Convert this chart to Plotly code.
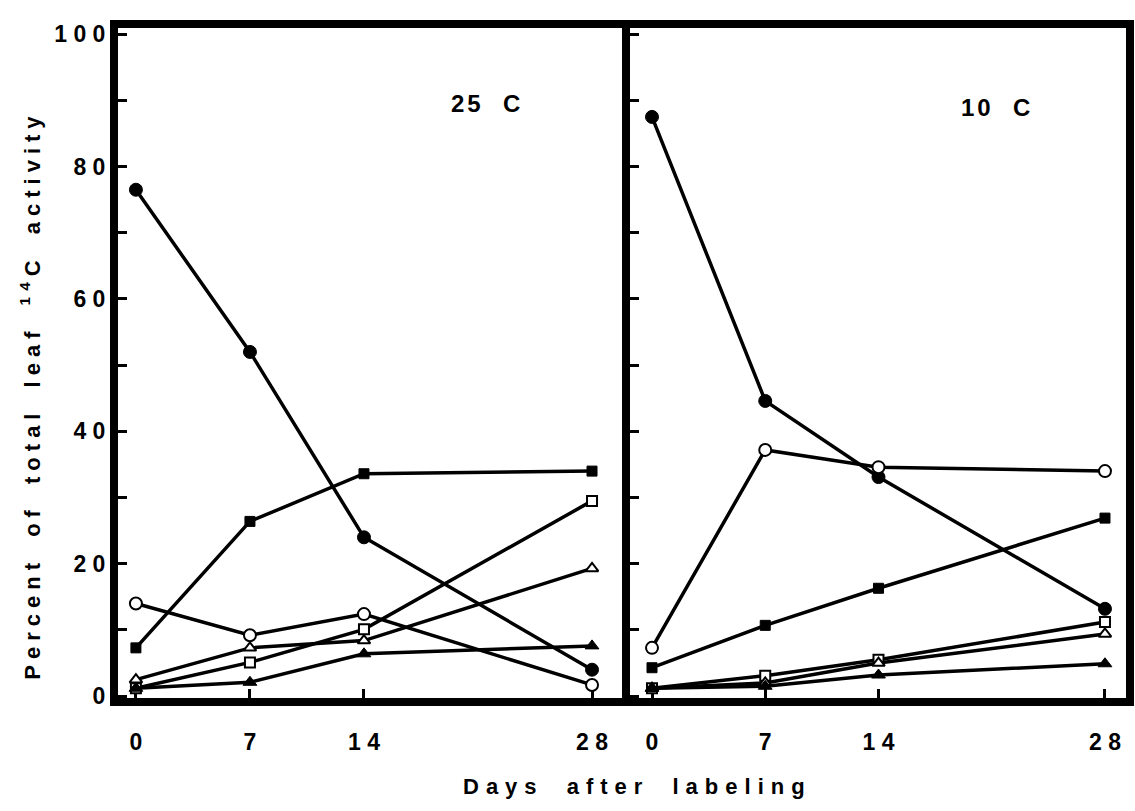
import plotly.graph_objects as go

# ---------------- data ----------------
days = [0, 7, 14, 28]
day_ticks = [0, 7, 14, 28]
day_tick_text = ["0", "7", "1 4", "2 8"]
y_tickvals = [0, 20, 40, 60, 80, 100]
y_ticktext = ["0", "2 0", "4 0", "6 0", "8 0", "1 0 0"]
y_minor_ticks = [10, 30, 50, 70, 90]
y_all_ticks = [0, 10, 20, 30, 40, 50, 60, 70, 80, 90, 100]

panel_titles = ["25&nbsp; C", "10&nbsp; C"]
x_title = "Days after labeling"
y_title = "Percent of total leaf <sup>14</sup>C activity"

# 25 C panel
c25_filled_circle = [76.5, 52.0, 24.0, 4.0]
c25_open_circle = [14.0, 9.2, 12.4, 1.7]
c25_filled_square = [7.3, 26.4, 33.6, 34.0]
c25_open_square = [1.2, 5.1, 10.1, 29.5]
c25_open_triangle = [2.5, 7.3, 8.4, 19.3]
c25_filled_triangle = [1.2, 2.1, 6.4, 7.6]

# 10 C panel
c10_filled_circle = [87.5, 44.6, 33.1, 13.2]
c10_open_circle = [7.3, 37.2, 34.6, 34.0]
c10_filled_square = [4.3, 10.7, 16.3, 26.9]
c10_open_square = [1.2, 3.1, 5.5, 11.2]
c10_open_triangle = [1.2, 2.0, 5.0, 9.4]
c10_filled_triangle = [1.2, 1.5, 3.2, 4.9]

# ---------------- styling ----------------
FONT = "Liberation Sans, Arial, Helvetica, sans-serif"
styles = {
    "filled_circle": dict(symbol="circle", size=13, color="black", line=dict(color="black", width=1)),
    "open_circle": dict(symbol="circle", size=12, color="white", line=dict(color="black", width=2)),
    "filled_square": dict(symbol="square", size=10, color="black", line=dict(color="black", width=1)),
    "open_square": dict(symbol="square", size=10, color="white", line=dict(color="black", width=2)),
    "open_triangle": dict(symbol="triangle-up", size=11, color="white", line=dict(color="black", width=2)),
    "filled_triangle": dict(symbol="triangle-up", size=12, color="black", line=dict(color="black", width=1)),
}

series25 = {
    "filled_circle": c25_filled_circle,
    "open_circle": c25_open_circle,
    "filled_square": c25_filled_square,
    "open_square": c25_open_square,
    "open_triangle": c25_open_triangle,
    "filled_triangle": c25_filled_triangle,
}
series10 = {
    "filled_circle": c10_filled_circle,
    "open_circle": c10_open_circle,
    "filled_square": c10_filled_square,
    "open_square": c10_open_square,
    "open_triangle": c10_open_triangle,
    "filled_triangle": c10_filled_triangle,
}

fig = go.Figure()
for (series, xa, ya) in [(series25, "x", "y"), (series10, "x2", "y2")]:
    for name, vals in series.items():
        fig.add_trace(go.Scatter(
            x=days, y=vals, mode="lines+markers", name=name,
            xaxis=xa, yaxis=ya, showlegend=False,
            line=dict(color="black", width=3.5),
            marker=styles[name], cliponaxis=False,
        ))

W, H = 1135, 811
def px(x):
    return x / W
def py(y):
    return 1 - y / H

axis_common = dict(
    showline=True, linecolor="black", linewidth=8, mirror=True,
    showgrid=False, zeroline=False, ticks="inside", tickcolor="black",
    tickwidth=3, ticklen=9, layer="below traces",
)
tick_font = dict(size=23, family=FONT, weight="bold", color="black")

fig.update_layout(
    width=W, height=H,
    margin=dict(l=0, r=0, t=0, b=0),
    paper_bgcolor="white", plot_bgcolor="white",
    font=dict(family=FONT, color="black"),
    xaxis=dict(domain=[px(118), px(622)], range=[-1.1, 29.84],
               tickvals=day_ticks, ticktext=day_tick_text, ticklabelstandoff=16,
               tickfont=tick_font, anchor="y", **axis_common),
    xaxis2=dict(domain=[px(630), px(1126)], range=[-1.36, 29.3],
                tickvals=day_ticks, ticktext=day_tick_text, ticklabelstandoff=16,
                tickfont=tick_font, anchor="y2", **axis_common),
    yaxis=dict(domain=[py(707), py(22)], range=[-0.3, 101.0],
               tickvals=y_tickvals, ticktext=y_ticktext,
               minor=dict(tickvals=y_minor_ticks, ticks="inside", ticklen=9,
                          tickwidth=3, tickcolor="black"),
               tickfont=tick_font, anchor="x", **axis_common),
    yaxis2=dict(domain=[py(707), py(22)], range=[-0.3, 101.0],
                tickvals=y_all_ticks, showticklabels=False,
                anchor="x2", **axis_common),
)

ann = []
ann.append(dict(x=px(487), y=py(100), xref="paper", yref="paper", showarrow=False,
                xanchor="center", yanchor="middle",
                text='<span style="letter-spacing:3px"><b>' + panel_titles[0] + '</b></span>',
                font=dict(size=24, family=FONT)))
ann.append(dict(x=px(997), y=py(104), xref="paper", yref="paper", showarrow=False,
                xanchor="center", yanchor="middle",
                text='<span style="letter-spacing:3px"><b>' + panel_titles[1] + '</b></span>',
                font=dict(size=24, family=FONT)))
ann.append(dict(x=px(637), y=py(797), xref="paper", yref="paper", showarrow=False,
                xanchor="center", yanchor="middle",
                text='<span style="letter-spacing:7px;word-spacing:10px"><b>' + x_title + '</b></span>',
                font=dict(size=22, family=FONT)))
ann.append(dict(x=px(30), y=py(398), xref="paper", yref="paper", showarrow=False, textangle=-90,
                xanchor="center", yanchor="middle",
                text='<span style="letter-spacing:6px;word-spacing:8px"><b>' + y_title + '</b></span>',
                font=dict(size=22, family=FONT)))
fig.update_layout(annotations=ann)

# the page body has a default 8px margin; remove it so the figure sits at (0, 0)
fig.write_html("out.html", config={"displayModeBar": False},
               post_script="document.body.style.margin='0px';")
